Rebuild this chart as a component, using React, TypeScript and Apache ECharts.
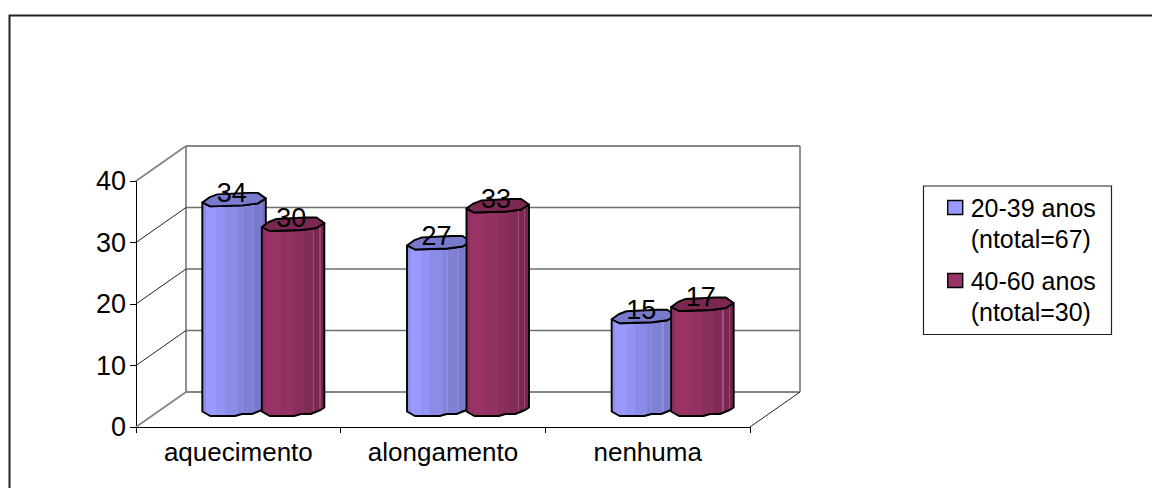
import React, { useEffect, useRef } from "react";
import * as echarts from "echarts";

// Chart data
const categories = ["aquecimento", "alongamento", "nenhuma"];
const youngerName = "20-39 anos\n(ntotal=67)";
const olderName = "40-60 anos\n(ntotal=30)";
const youngerValues = [34, 27, 15];
const olderValues = [30, 33, 17];
const yTicks = [0, 10, 20, 30, 40];

// Oblique projection of the chart's depth
const DEPTH_X = 50;
const DEPTH_Y = -35;
const FONT = "Liberation Sans";

// Faceted cylinder outline, in pixels from the left edge of each rim
const TOP_RIM = [[0, 0], [7, -5], [15, -8], [45, -9.5], [56, -9.5], [64, -4], [56, 1], [41, 3], [8, 4]];
const FRONT_RIM = [[64, -4], [56, 1], [41, 3], [8, 4], [0, 0]];
const BOTTOM_RIM = [[0, 0], [8, 4.5], [33, 4.5], [40, 2.5], [50, 2.5], [60, -1.5], [64, -4]];

type Band = [number, string];
const blueBands: Band[] = [
  [0, "#8e8eec"], [0.06, "#9999ff"], [0.22, "#9393f4"], [0.36, "#8b8be8"], [0.56, "#8383da"],
  [0.62, "#8e8ede"], [0.64, "#8080d5"], [0.8, "#8d8dd8"], [0.82, "#7a7acb"], [0.92, "#8787d2"], [0.94, "#7070bb"], [1, "#6c6cb4"],
];
const purpleBands: Band[] = [
  [0, "#8f3060"], [0.06, "#993366"], [0.3, "#933162"], [0.5, "#8a2e5c"], [0.68, "#822b56"],
  [0.82, "#a05078"], [0.84, "#7a2851"], [0.92, "#97486f"], [0.94, "#72264c"], [1, "#6c2448"],
];

function bandGradient(bands: Band[]) {
  const stops: { offset: number; color: string }[] = [];
  bands.forEach(([offset, color], i) => {
    stops.push({ offset, color });
    const next = bands[i + 1];
    if (next) stops.push({ offset: next[0], color });
  });
  return new echarts.graphic.LinearGradient(0, 0, 1, 0, stops);
}

function cylinderSeries(name: string, values: number[], shift: number, width: number, bands: Band[], topColor: string) {
  const sx = width / 64;
  const outline = { stroke: "#000", lineWidth: 1.9, lineJoin: "round" };
  return {
    name,
    type: "custom",
    data: values.map((v, i) => [i, v]),
    encode: { x: 0, y: 1 },
    renderItem: (_params: any, api: any) => {
      const i = api.value(0);
      const v = api.value(1);
      const base = api.coord([i, 0]);
      const top = api.coord([i, v]);
      const left = base[0] + shift;
      const yBase = base[1] - 15.5;
      const yTop = top[1] - 15.5;
      const at = (rim: number[][], y: number) => rim.map(([dx, dy]) => [left + dx * sx, y + dy]);
      const body = [...at(BOTTOM_RIM, yBase), ...at(FRONT_RIM, yTop)];
      return {
        type: "group",
        children: [
          {
            type: "polygon",
            shape: { points: body },
            style: { fill: bandGradient(bands), ...outline },
          },
          {
            type: "polygon",
            shape: { points: at(TOP_RIM, yTop) },
            style: { fill: topColor, ...outline },
          },
          {
            type: "text",
            z2: 10,
            style: {
              text: String(v),
              x: left + 29.5,
              y: yTop - 9.5,
              align: "center",
              verticalAlign: "middle",
              fill: "#000",
              font: `27px "${FONT}"`,
            },
          },
        ],
      };
    },
  };
}

// Back wall, side wall and floor, projected from the front plane of the axes
const wallSeries = {
  name: "walls",
  type: "custom",
  silent: true,
  data: yTicks.map((t) => [0, t]),
  encode: { x: 0, y: 1 },
  renderItem: (params: any, api: any) => {
    const { x, width } = params.coordSys;
    const v = api.value(1);
    const y = api.coord([0, v])[1];
    const first = v === yTicks[0];
    const last = v === yTicks[yTicks.length - 1];
    const grey = { stroke: "#858585", lineWidth: 1.8 };
    const thin = { stroke: "#222", lineWidth: 1 };
    const line = (x1: number, y1: number, x2: number, y2: number, style: any) => ({
      type: "line",
      shape: { x1, y1, x2, y2 },
      style,
    });
    const backY = y + DEPTH_Y;
    const backL = x + DEPTH_X;
    const backR = x + width + DEPTH_X;
    const children: any[] = [
      line(x, y, backL, backY, first || last ? grey : thin),
      line(backL, backY, backR, backY, last || first ? grey : { stroke: "#6f6f6f", lineWidth: 1.6 }),
    ];
    if (first) {
      const yMax = api.coord([0, yTicks[yTicks.length - 1]])[1] + DEPTH_Y;
      children.push(line(backL, backY, backL, yMax, grey));
      children.push(line(backR, backY, backR, yMax, grey));
      children.push(line(x + width, y, backR, backY, thin));
    }
    return { type: "group", children };
  },
};

export default function App() {
  const ref = useRef<HTMLDivElement>(null);

  useEffect(() => {
    document.body.style.margin = "0";
    const chart = echarts.init(ref.current!, undefined, { renderer: "svg" });
    chart.setOption({
      animation: false,
      backgroundColor: "#fff",
      grid: { left: 136, top: 181, width: 614, height: 246 },
      xAxis: {
        type: "category",
        data: categories,
        axisLine: { lineStyle: { color: "#000", width: 1 } },
        axisTick: { show: true, length: 6, alignWithLabel: false, lineStyle: { color: "#000" } },
        axisLabel: { fontFamily: FONT, fontSize: 26, color: "#000", margin: 12 },
      },
      yAxis: {
        type: "value",
        min: 0,
        max: 40,
        interval: 10,
        splitLine: { show: false },
        axisLine: { show: true, lineStyle: { color: "#000", width: 1 } },
        axisTick: { show: true, length: 6, lineStyle: { color: "#000" } },
        axisLabel: { fontFamily: FONT, fontSize: 27, color: "#000", margin: 10 },
      },
      legend: {
        orient: "vertical",
        left: 947,
        top: 161,
        padding: 0,
        itemWidth: 15,
        itemHeight: 14,
        itemGap: -20,
        selectedMode: false,
        formatter: (name: string) => "\n" + name,
        textStyle: { fontFamily: FONT, fontSize: 25, color: "#000", lineHeight: 31, padding: [0, 0, 0, 3] },
        data: [
          { name: youngerName, icon: "rect", itemStyle: { color: "#9999ff", borderColor: "#000", borderWidth: 1.4 } },
          { name: olderName, icon: "rect", itemStyle: { color: "#993366", borderColor: "#000", borderWidth: 1.4 } },
        ],
      },
      graphic: [
        {
          type: "polyline",
          shape: { points: [[9.5, 488], [9.5, 15.5], [1152, 15.5]] },
          style: { fill: "none", stroke: "#222", lineWidth: 2 },
        },
        {
          type: "rect",
          shape: { x: 923.5, y: 186, width: 188, height: 148.5 },
          style: { fill: "#fff", stroke: "#222", lineWidth: 1.2 },
        },
      ],
      series: [
        wallSeries,
        cylinderSeries(youngerName, youngerValues, -36, 63.5, blueBands, "#7a7acc"),
        cylinderSeries(olderName, olderValues, 23.5, 62.5, purpleBands, "#7a2850"),
      ],
    });
    return () => chart.dispose();
  }, []);

  return <div ref={ref} style={{ width: 1152, height: 488 }} />;
}
